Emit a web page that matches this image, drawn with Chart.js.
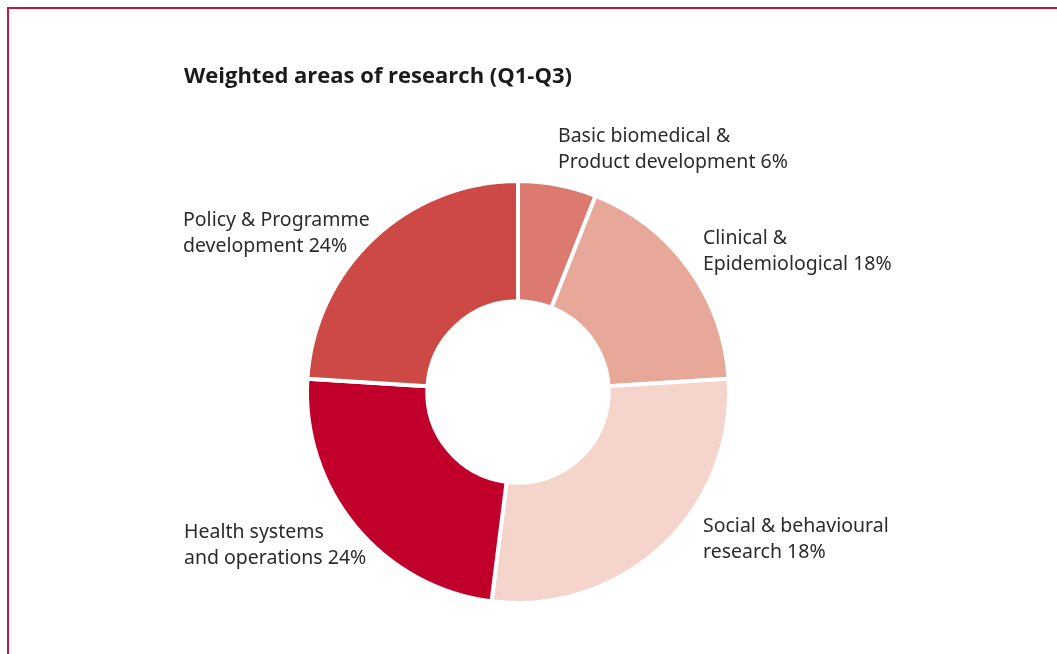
<!DOCTYPE html>
<html>
<head>
<meta charset="utf-8">
<script src="https://cdn.jsdelivr.net/npm/chart.js@4.4.1/dist/chart.umd.min.js"></script>
<style>
  html, body { margin: 0; padding: 0; background: #fff; }
  #wrap { position: relative; width: 1057px; height: 654px; }
  #frame { position: absolute; left: 7px; top: 7px; right: 0; bottom: 0;
           border-left: 2px solid #c8173f; border-top: 2px solid #c8173f; }
  canvas { position: absolute; left: 0; top: 0; }
</style>
</head>
<body>
<div id="wrap">
  <div id="frame"></div>
  <canvas id="chart" width="1057" height="654"></canvas>
</div>
<script>
// Datos (ángulos de los sectores)
const categories = [
    ['Basic biomedical &', 'Product development 6%'],
    ['Clinical &', 'Epidemiological 18%'],
    ['Social & behavioural', 'research 18%'],
    ['Health systems', 'and operations 24%'],
    ['Policy & Programme', 'development 24%']
];
const values = [6, 18, 28, 24, 24];
const colors = ['#dc7a6f', '#e8a899', '#f4d4cb', '#c0002b', '#cc4945'];
const title = 'Weighted areas of research (Q1-Q3)';

// posiciones de las etiquetas (x izquierda, línea base de la primera línea)
const labelPos = [
    [558, 142],
    [703, 244],
    [703, 532],
    [184, 538],
    [183, 226]
];

const textPlugin = {
    id: 'textPlugin',
    afterDraw(chart) {
        const ctx = chart.ctx;
        ctx.save();
        ctx.textBaseline = 'alphabetic';
        ctx.textAlign = 'left';
        ctx.fillStyle = '#1b1b1b';
        ctx.font = 'bold 22px "Open Sans"';
        ctx.fillText(title, 184, 83);
        ctx.fillStyle = '#2b2b2b';
        ctx.font = '19.5px "Noto Sans"';
        categories.forEach(function(lines, i) {
            lines.forEach(function(line, j) {
                ctx.fillText(line, labelPos[i][0], labelPos[i][1] + j * 26);
            });
        });
        ctx.restore();
    }
};

const ctx = document.getElementById('chart').getContext('2d');
new Chart(ctx, {
    type: 'doughnut',
    data: {
        labels: categories.map(function(l) { return l.join(' '); }),
        datasets: [{
            data: values,
            backgroundColor: colors,
            borderColor: '#ffffff',
            borderWidth: 4
        }]
    },
    options: {
        responsive: false,
        animation: false,
        cutout: '43%',
        layout: {
            padding: { left: 305, right: 326, top: 179, bottom: 49 }
        },
        plugins: {
            legend: { display: false },
            tooltip: { enabled: false }
        }
    },
    plugins: [textPlugin]
});
</script>
</body>
</html>
